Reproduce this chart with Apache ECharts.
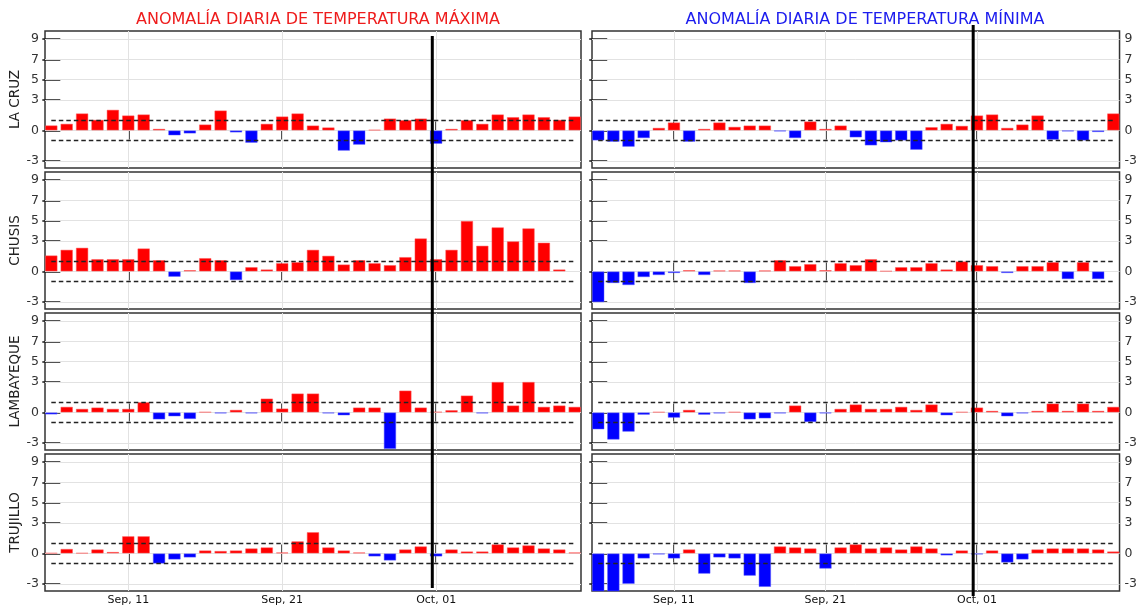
<!DOCTYPE html>
<html>
<head>
<meta charset="utf-8">
<script src="https://cdn.jsdelivr.net/npm/echarts@6/dist/echarts.min.js"></script>
<style>
  html, body { margin: 0; padding: 0; background: #ffffff; }
  #chart { width: 1140px; height: 606px; }
</style>
</head>
<body>
<div id="chart"></div>
<script>
// Daily anomaly series, Sep 06 .. Oct 10
const days = [
  'Sep 06','Sep 07','Sep 08','Sep 09','Sep 10','Sep 11','Sep 12','Sep 13','Sep 14','Sep 15',
  'Sep 16','Sep 17','Sep 18','Sep 19','Sep 20','Sep 21','Sep 22','Sep 23','Sep 24','Sep 25',
  'Sep 26','Sep 27','Sep 28','Sep 29','Sep 30','Oct 01','Oct 02','Oct 03','Oct 04','Oct 05',
  'Oct 06','Oct 07','Oct 08','Oct 09','Oct 10'
];
const tickDays = ['Sep 11', 'Sep 21', 'Oct 01'];
const tickLabels = ['Sep, 11', 'Sep, 21', 'Oct, 01'];
const yTicks = [-3, 0, 3, 5, 7, 9];
const thresholds = [1, -1];
const stations = ['LA CRUZ', 'CHUSIS', 'LAMBAYEQUE', 'TRUJILLO'];
const titles = ['ANOMALÍA DIARIA DE TEMPERATURA MÁXIMA', 'ANOMALÍA DIARIA DE TEMPERATURA MÍNIMA'];
// position of the vertical marker, in days from Sep 06
const markerDay = 24.75;

const laCruzMax = [0.5, 0.66, 1.68, 1.05, 2.04, 1.48, 1.58, 0.16, -0.49, -0.3, 0.59, 1.97, -0.2, -1.22, 0.66, 1.38, 1.68, 0.49,
  0.3, -2.0, -1.41, 0.07, 1.18, 1.02, 1.18, -1.32, 0.16, 1.02, 0.66, 1.58, 1.32, 1.58, 1.32, 1.05, 1.38];
const laCruzMin = [-0.99, -1.12, -1.61, -0.76, 0.26, 0.79, -1.12, 0.16, 0.79, 0.36, 0.49, 0.49, -0.1, -0.76, 0.89, 0.16, 0.49, -0.69,
  -1.48, -1.18, -0.99, -1.91, 0.33, 0.66, 0.46, 1.48, 1.58, 0.26, 0.59, 1.48, -0.92, -0.1, -0.99, -0.16, 1.68];
const chusisMax = [1.58, 2.14, 2.34, 1.22, 1.22, 1.22, 2.27, 1.12, -0.53, 0.13, 1.32, 1.12, -0.86, 0.43, 0.2, 0.82, 0.92, 2.14,
  1.55, 0.69, 1.12, 0.82, 0.63, 1.42, 3.26, 1.22, 2.14, 4.98, 2.54, 4.35, 2.97, 4.25, 2.84, 0.2, null];
const chusisMin = [-3.03, -1.15, -1.35, -0.56, -0.36, -0.16, 0.13, -0.36, 0.1, 0.1, -1.15, 0.1, 1.12, 0.53, 0.73, 0.13, 0.82, 0.63,
  1.22, 0.05, 0.43, 0.43, 0.82, 0.2, 0.99, 0.63, 0.53, -0.16, 0.53, 0.53, 0.92, -0.76, 0.92, -0.76, null];
const lambayequeMax = [-0.2, 0.56, 0.36, 0.49, 0.36, 0.36, 1.01, -0.69, -0.39, -0.65, 0.05, -0.1, 0.26, -0.1, 1.37, 0.39, 1.87, 1.87,
  -0.1, -0.29, 0.49, 0.49, -3.6, 2.16, 0.49, 0.07, 0.23, 1.67, -0.1, 3.01, 0.69, 3.01, 0.56, 0.69, 0.56];
const lambayequeMin = [-1.67, -2.68, -1.9, -0.23, 0.05, -0.52, 0.26, -0.23, -0.1, 0.05, -0.69, -0.59, -0.1, 0.69, -0.95, -0.1, 0.36, 0.79,
  0.36, 0.36, 0.56, 0.26, 0.79, -0.29, 0.05, 0.49, 0.16, -0.39, -0.1, 0.16, 0.88, 0.16, 0.88, 0.16, 0.56];
const trujilloMax = [0.05, 0.45, 0.05, 0.4, 0.15, 1.7, 1.7, -1.0, -0.6, -0.4, 0.3, 0.25, 0.3, 0.5, 0.6, 0.1, 1.2, 2.1,
  0.6, 0.3, 0.1, -0.3, -0.7, 0.4, 0.7, -0.3, 0.4, 0.2, 0.2, 0.9, 0.6, 0.8, 0.5, 0.4, 0.1];
const trujilloMin = [-3.8, -3.8, -3.0, -0.5, -0.1, -0.5, 0.4, -2.0, -0.4, -0.5, -2.2, -3.3, 0.7, 0.6, 0.5, -1.5, 0.6, 0.9,
  0.5, 0.6, 0.4, 0.7, 0.5, -0.2, 0.3, -0.1, 0.3, -0.9, -0.6, 0.4, 0.5, 0.5, 0.5, 0.4, 0.2];

const panels = [
  [laCruzMax, laCruzMin],
  [chusisMax, chusisMin],
  [lambayequeMax, lambayequeMin],
  [trujilloMax, trujilloMin]
];

// layout
const ROW_TOP = [31, 172, 313, 454];
const ROW_H = 137;
const COL_LEFT = [45, 592];
const COL_W = 536;
const X_MIN = -0.41, X_MAX = days.length - 1 + 0.41;
const Y_MIN = -3.7, Y_MAX = 9.8;
const POS = '#ff0000', NEG = '#0000ff';
const FONT = 'DejaVu Sans';

const tickIdx = tickDays.map(d => days.indexOf(d));

const grid = [], xAxis = [], yAxis = [], series = [];

panels.forEach((pair, r) => {
  pair.forEach((values, c) => {
    const g = r * 2 + c;
    grid.push({
      left: COL_LEFT[c], top: ROW_TOP[r], width: COL_W, height: ROW_H,
      show: true, borderColor: '#333333', borderWidth: 1.5
    });
    const xTick = { show: true, inside: true, length: 9, customValues: tickIdx,
      lineStyle: { color: '#1a1a1a', width: 1.5 } };
    ['bottom', 'top'].forEach(pos => {
      xAxis.push({
        type: 'value', gridIndex: g, min: X_MIN, max: X_MAX, position: pos,
        axisLine: { show: false }, splitLine: { show: false },
        axisTick: xTick,
        axisLabel: {
          show: pos === 'bottom' && r === 3, customValues: tickIdx,
          formatter: v => tickLabels[tickIdx.indexOf(Math.round(v))],
          color: '#111', fontSize: 11, fontFamily: FONT, margin: 4
        }
      });
    });
    const labelSide = c === 0 ? 'left' : 'right';
    const otherSide = c === 0 ? 'right' : 'left';
    [labelSide, otherSide].forEach((pos, k) => {
      yAxis.push({
        type: 'value', gridIndex: g, min: Y_MIN, max: Y_MAX, position: pos,
        axisLine: { show: false }, splitLine: { show: false },
        axisTick: { show: true, inside: true, length: 9, customValues: yTicks,
          lineStyle: { color: '#1a1a1a', width: 1.5 } },
        axisLabel: { show: k === 0, customValues: yTicks, color: '#333',
          fontSize: 12.5, fontFamily: FONT, margin: c === 0 ? 6 : 5 },
        name: (k === 0 && c === 0) ? stations[r] : '',
        nameLocation: 'middle', nameRotate: 90, nameGap: 20,
        nameTextStyle: { fontSize: 13.5, color: '#222', fontFamily: FONT }
      });
    });

    // light grid lines behind the bars
    series.push({
      type: 'line', xAxisIndex: g * 2, yAxisIndex: g * 2, data: [], silent: true, z: 1,
      markLine: {
        silent: true, symbol: 'none', z: 1, animation: false,
        label: { show: false },
        lineStyle: { color: '#e2e2e2', width: 1, type: 'solid' },
        data: tickIdx.map(x => ({ xAxis: x })).concat(yTicks.map(y => ({ yAxis: y })))
      }
    });

    // anomaly bars, with the ±1 reference lines
    const data = [];
    values.forEach((v, i) => {
      if (v === null) return;
      data.push({ value: [i, v], itemStyle: { color: v >= 0 ? POS : NEG,
        borderColor: v >= 0 ? 'rgba(255,90,90,0.6)' : 'rgba(90,90,255,0.6)', borderWidth: 0.8 } });
    });
    series.push({
      type: 'bar', xAxisIndex: g * 2, yAxisIndex: g * 2, data, barWidth: 12.4,
      clip: true, z: 2, animation: false,
      markLine: {
        silent: true, symbol: 'none', z: 5, animation: false,
        label: { show: false },
        lineStyle: { color: '#222', type: [4.5, 3], width: 1.3 },
        data: thresholds.map(t => [{ coord: [0, t] }, { coord: [days.length - 1, t] }])
      }
    });
  });
});

const option = {
  animation: false,
  backgroundColor: '#ffffff',
  textStyle: { fontFamily: FONT },
  title: titles.map((t, c) => ({
    text: t, left: COL_LEFT[c] + COL_W / 2, top: 7, textAlign: 'center',
    textStyle: { color: c === 0 ? '#ee1c1c' : '#1c1cee', fontSize: 16, fontWeight: 'normal', fontFamily: FONT }
  })),
  grid, xAxis, yAxis, series
};

const chart = echarts.init(document.getElementById('chart'), null, { renderer: 'canvas' });
chart.setOption(option);

// vertical marker spanning each column of panels
const extents = [[ROW_TOP[0] + 5, ROW_TOP[3] + ROW_H - 3], [ROW_TOP[0] - 6, ROW_TOP[3] + ROW_H + 5]];
chart.setOption({
  graphic: [0, 1].map(c => {
    const x = chart.convertToPixel({ xAxisIndex: c * 2 }, markerDay);
    return {
      type: 'line', z: 100, silent: true,
      shape: { x1: x, y1: extents[c][0], x2: x, y2: extents[c][1] },
      style: { stroke: '#000', lineWidth: 3 }
    };
  })
});
</script>
</body>
</html>
